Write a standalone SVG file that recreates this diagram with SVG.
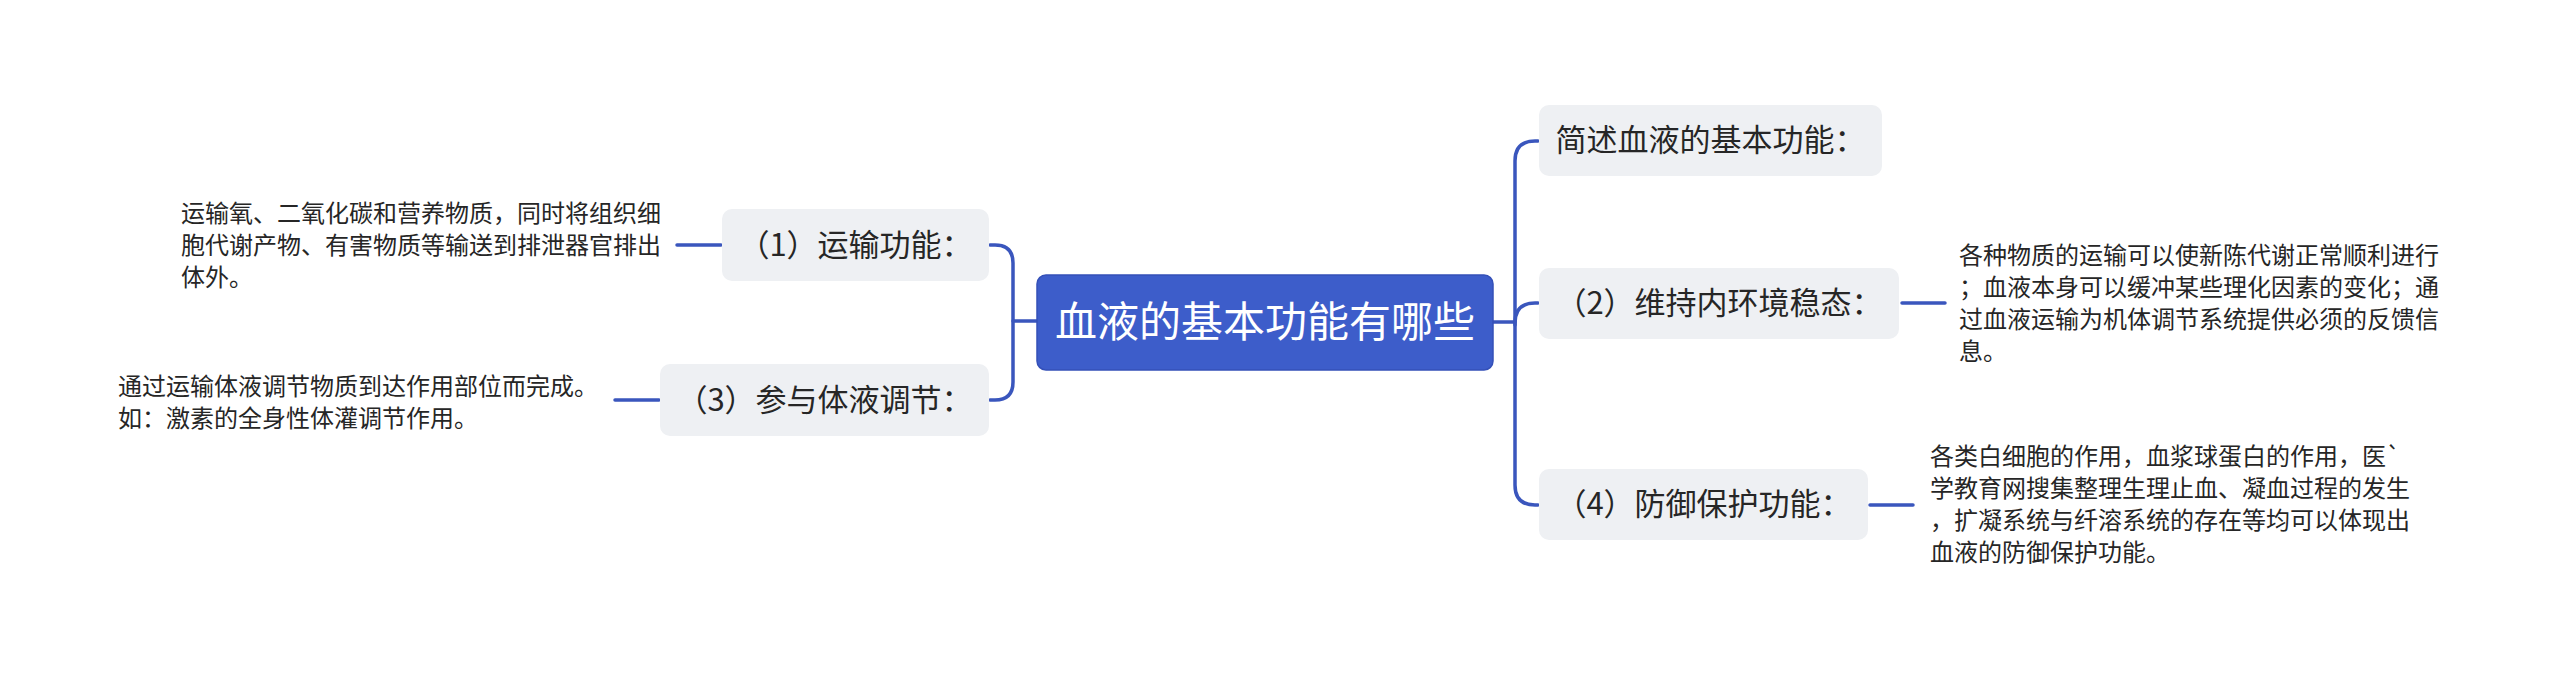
<svg xmlns="http://www.w3.org/2000/svg" width="2560" height="684" viewBox="0 0 2560 684">
<style>
text{font-family:"Noto Sans CJK SC","Noto Sans",sans-serif;fill:#262626;}
.topic{fill:#EEF0F3;}
.tt{font-size:31px;text-anchor:middle;}
.leaf{font-size:24px;}
.conn{fill:none;stroke:#3A56BD;stroke-width:3.5;stroke-linecap:round;}
</style>
<rect width="2560" height="684" fill="#ffffff"/>
<g id="connectors">
<path class="conn" d="M1037,321 H1013"/>
<path class="conn" d="M990,245 H995 Q1013,245 1013,263 V382 Q1013,400 995,400 H990"/>
<path class="conn" d="M1493,322 H1515"/>
<path class="conn" d="M1538,141 H1535 Q1515,141 1515,161 V485 Q1515,505 1535,505 H1538"/>
<path class="conn" d="M1515,325 V323 Q1515,303 1535,303 H1538"/>
<path class="conn" d="M677,245 H721"/>
<path class="conn" d="M615,400 H659"/>
<path class="conn" d="M1902,303 H1945"/>
<path class="conn" d="M1870,505 H1913"/>
</g>
<g id="root">
<rect x="1037" y="275" width="456" height="95" rx="9" fill="#3D5DCA" stroke="#3450B8" stroke-width="1.5"/>
<text x="1265" y="337" style="font-size:42px;text-anchor:middle;fill:#ffffff;">血液的基本功能有哪些</text>
</g>
<g id="n1">
<rect class="topic" x="722" y="209" width="267" height="72" rx="10"/>
<text class="tt" x="855.5" y="256">（1）运输功能：</text>
</g>
<g id="n1-leaf">
<text class="leaf" x="181" y="222">运输氧、二氧化碳和营养物质，同时将组织细</text>
<text class="leaf" x="181" y="254">胞代谢产物、有害物质等输送到排泄器官排出</text>
<text class="leaf" x="181" y="286">体外。</text>
</g>
<g id="n3">
<rect class="topic" x="660" y="364" width="329" height="72" rx="10"/>
<text class="tt" x="824.5" y="411">（3）参与体液调节：</text>
</g>
<g id="n3-leaf">
<text class="leaf" x="118" y="395">通过运输体液调节物质到达作用部位而完成。</text>
<text class="leaf" x="118" y="427">如：激素的全身性体灌调节作用。</text>
</g>
<g id="n0">
<rect class="topic" x="1539" y="105" width="343" height="71" rx="10"/>
<text class="tt" x="1710.5" y="151">简述血液的基本功能：</text>
</g>
<g id="n2">
<rect class="topic" x="1539" y="268" width="360" height="71" rx="10"/>
<text class="tt" x="1719" y="314">（2）维持内环境稳态：</text>
</g>
<g id="n2-leaf">
<text class="leaf" x="1959" y="264">各种物质的运输可以使新陈代谢正常顺利进行</text>
<text class="leaf" x="1959" y="296">；血液本身可以缓冲某些理化因素的变化；通</text>
<text class="leaf" x="1959" y="328">过血液运输为机体调节系统提供必须的反馈信</text>
<text class="leaf" x="1959" y="360">息。</text>
</g>
<g id="n4">
<rect class="topic" x="1539" y="469" width="329" height="71" rx="10"/>
<text class="tt" x="1703.5" y="515">（4）防御保护功能：</text>
</g>
<g id="n4-leaf">
<text class="leaf" x="1930" y="465">各类白细胞的作用，血浆球蛋白的作用，医`</text>
<text class="leaf" x="1930" y="497">学教育网搜集整理生理止血、凝血过程的发生</text>
<text class="leaf" x="1930" y="529">，扩凝系统与纤溶系统的存在等均可以体现出</text>
<text class="leaf" x="1930" y="561">血液的防御保护功能。</text>
</g>
</svg>
